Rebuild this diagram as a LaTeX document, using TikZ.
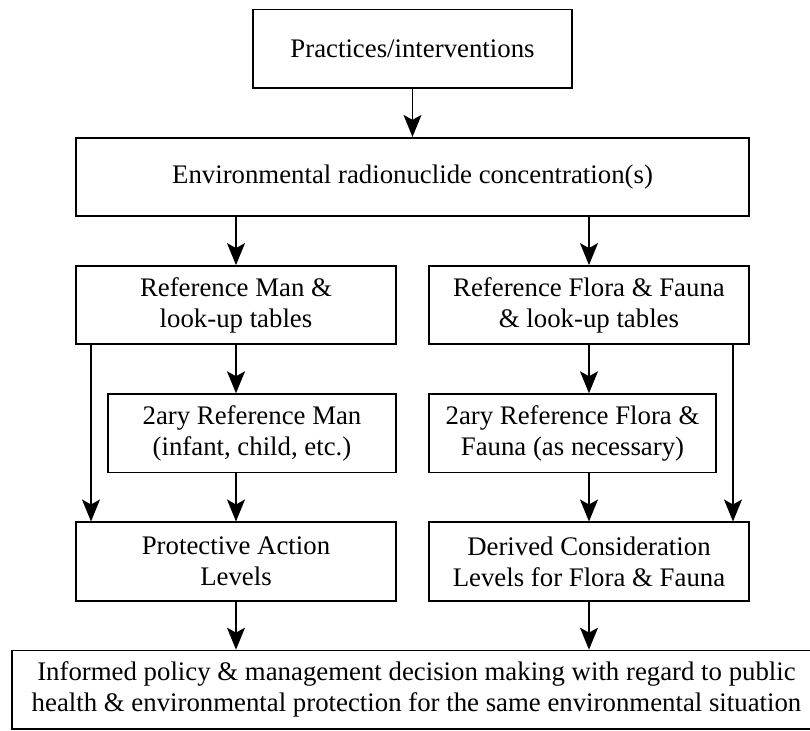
\documentclass[tikz,border=0pt]{standalone}
\usepackage{fontspec}
\setmainfont{Liberation Serif}
\usetikzlibrary{arrows.meta,positioning}

\begin{document}
\begin{tikzpicture}[node distance=24pt,>={Stealth[length=11pt,width=9pt,inset=2.5pt]},every node/.append style={align=center},int/.style={draw, line width=0.9pt, minimum height=39.2pt, inner sep=2pt, font=\fontsize{13.4}{15.5}\selectfont}]
    \useasboundingbox (-206.25pt,-277pt) rectangle (198.75pt,88.5pt);
    \node [int, minimum width=336.6pt] (E) at (0,0) {Environmental radionuclide concentration(s)};
      \node [int, minimum width=159.6pt, above=of E] (P) {Practices/interventions};
    \node [int, minimum width=160.1pt, below=of E.south west, anchor=north west] (RM) {Reference Man \&\\ look-up tables};
    \node [int, minimum width=160.1pt, below=of E.south east, anchor=north east] (RF) {Reference Flora \& Fauna\\ \& look-up tables};

    \node [int, minimum width=144.1pt, below=of RM.south east, anchor=north east] (SM) {2ary Reference Man\\ (infant, child, etc.)};
    \node [int, minimum width=143.6pt, below=of RF.south west, anchor=north west] (SF) {2ary Reference Flora \&\\ Fauna (as necessary)};

    \node [int, minimum width=160.1pt, below=of SM.south east, anchor=north east] (PAL) {Protective Action\\ Levels};
    \node [int, minimum width=160.1pt, below=of SF.south west, anchor=north west] (DCL) {Derived Consideration\\ Levels for Flora \& Fauna};
     \node [int, minimum width=404.6pt, below=of PAL.south west, anchor=north west, xshift=-32pt] (D) {Informed policy \& management decision making with regard to public\\ health \& environmental protection for the same environmental situation};

   % connectors
    \path[->, line width=0.7pt] (P) edge (E)
                          (RM |- E.south) edge (RM)
                          (RF |- E.south) edge (RF)
                          (RM) edge (RM |- SM.north)
                          (RF) edge (RF |- SF.north)
                          (PAL |- SM.south) edge (PAL)
                          (DCL |- SF.south) edge (DCL)
                          ([xshift=8pt]RM.south west) edge ([xshift=8pt]PAL.north west)
                          ([xshift=-8.5pt]RF.south east) edge ([xshift=-8.5pt]DCL.north east)
                          (PAL) edge (PAL |- D.north)
                          (DCL) edge (DCL |- D.north);
\end{tikzpicture}
\end{document}
